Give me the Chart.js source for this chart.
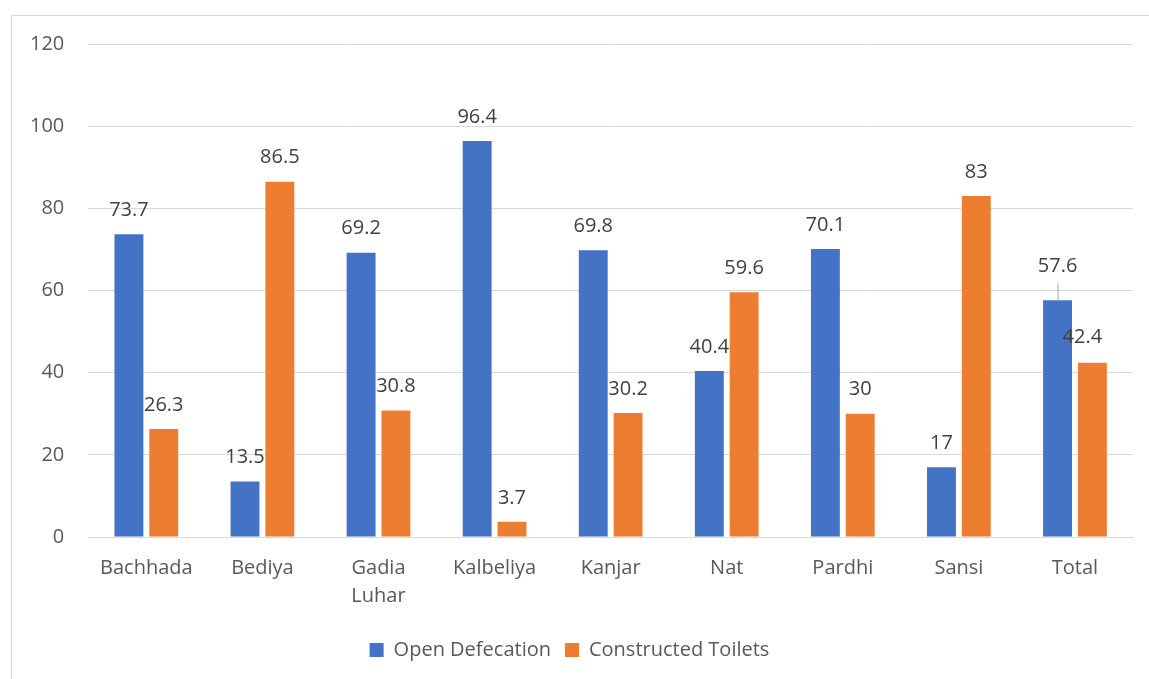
<!DOCTYPE html>
<html>
<head>
<meta charset="utf-8">
<script src="https://cdn.jsdelivr.net/npm/chart.js@4"></script>
<style>
  html, body { margin: 0; padding: 0; background: #fff; }
  #frame { position: absolute; left: 11px; top: 15px; width: 1160px; height: 700px;
           border-left: 1px solid #d9d9d9; border-top: 1px solid #d9d9d9; }
  #wrap { position: absolute; left: 0; top: 0; width: 1149px; height: 679px; }
</style>
</head>
<body>
<div id="frame"></div>
<div id="wrap"><canvas id="myChart"></canvas></div>
<script>
var labels = [['Bachhada'], ['Bediya'], ['Gadia', 'Luhar'], ['Kalbeliya'], ['Kanjar'], ['Nat'], ['Pardhi'], ['Sansi'], ['Total']];
var openDefecation = [73.7, 13.5, 69.2, 96.4, 69.8, 40.4, 70.1, 17, 57.6];
var constructedToilets = [26.3, 86.5, 30.8, 3.7, 30.2, 59.6, 30, 83, 42.4];
var yTicks = [0, 20, 40, 60, 80, 100, 120];

var ctx = document.getElementById('myChart').getContext('2d');
var FONT = '"Open Sans", "Noto Sans", sans-serif';

// value labels above the bars (Total gets the Excel-style moved labels)
const barLabels = {
  id: 'barLabels',
  afterDatasetsDraw(chart) {
    const c = chart.ctx;
    c.save();
    c.font = '20px ' + FONT;
    c.fillStyle = '#404040';
    c.textAlign = 'center';
    c.textBaseline = 'middle';
    chart.data.datasets.forEach((ds, di) => {
      chart.getDatasetMeta(di).data.forEach((bar, i) => {
        let x = bar.x, y = bar.y - 24;
        const last = i === ds.data.length - 1;
        if (last && di === 0) {
          y = bar.y - 34;
          c.strokeStyle = '#a6a6a6';
          c.lineWidth = 1;
          c.beginPath();
          c.moveTo(bar.x + 0.5, bar.y);
          c.lineTo(bar.x + 0.5, bar.y - 17);
          c.stroke();
        }
        if (last && di === 1) {
          x = bar.x - 10;
          y = bar.y - 26;
        }
        c.fillText(String(ds.data[i]), x, y);
      });
    });
    c.restore();
  }
};

const data = {
  labels: labels,
  datasets: [
    {
      label: 'Open Defecation',
      data: openDefecation,
      backgroundColor: '#4472C4',
      borderWidth: 0,
      categoryPercentage: 0.6,
      barPercentage: 0.83
    },
    {
      label: 'Constructed Toilets',
      data: constructedToilets,
      backgroundColor: '#ED7D31',
      borderWidth: 0,
      categoryPercentage: 0.6,
      barPercentage: 0.83
    }
  ]
};

const config = {
  type: 'bar',
  data: data,
  options: {
    responsive: true,
    maintainAspectRatio: false,
    animation: false,
    layout: { padding: { left: 6, right: 16, top: 44, bottom: 9 } },
    scales: {
      x: {
        grid: { display: false },
        border: { color: '#d9d9d9', width: 1 },
        ticks: { color: '#595959', font: { family: FONT, size: 20, lineHeight: 1.4 }, padding: 9, maxRotation: 0 },
        afterFit: (axis) => { axis.height += 7; }
      },
      y: {
        min: 0,
        max: 120,
        afterBuildTicks: (axis) => { axis.ticks = yTicks.map(v => ({ value: v })); },
        grid: { color: '#d9d9d9', lineWidth: 1, drawTicks: false },
        border: { display: false },
        ticks: { color: '#595959', font: { family: FONT, size: 20 }, padding: 24 }
      }
    },
    plugins: {
      legend: {
        position: 'bottom',
        labels: {
          color: '#595959',
          font: { family: FONT, size: 20 },
          boxWidth: 14,
          boxHeight: 14,
          padding: 14
        }
      },
      tooltip: { enabled: false }
    }
  },
  plugins: [barLabels]
};

var myChart = new Chart(ctx, config);
</script>
</body>
</html>
